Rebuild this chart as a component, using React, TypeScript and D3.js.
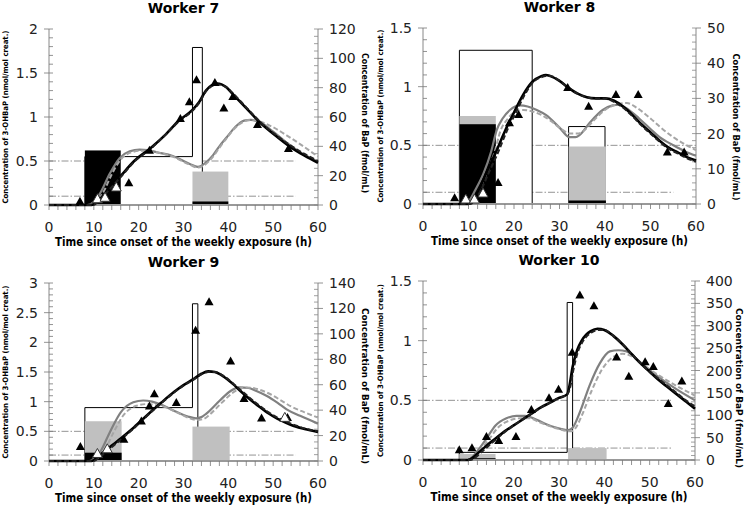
import React from 'react';
import * as d3 from 'd3';

type P = [number, number];
type Seg = [number, number, number];

// ---------- shared ----------
const xTicks = [0, 10, 20, 30, 40, 50, 60];
const refLevels = [0.5, 0.1];
const xTitle = 'Time since onset of the weekly exposure (h)';
const leftTitle = 'Concentration of 3-OHBaP (nmol/mol creat.)';
const rightTitle = 'Concentration of BaP (fmol/mL)';

// ---------- Worker 7 ----------
const w7LeftTicks = [0, 0.5, 1, 1.5, 2];
const w7RightTicks = [0, 20, 40, 60, 80, 100, 120];
const w7White: Seg[][] = [[[8, 32, 0.55], [32, 34.2, 1.79]]];
const w7Grey: Seg[] = [[32, 40, 0.38]];
const w7Black: Seg[] = [[8, 16, 0.62], [32, 40, 0.04]];
const w7BlackSolid: P[] = [[0,0],[9.5,0],[11,0.05],[13,0.16],[16,0.33],[19,0.5],[22.5,0.64],[26,0.8],[29,0.96],[32,1.08],[33.5,1.17],[35,1.3],[37.5,1.38],[39.5,1.34],[41,1.26],[44,1.1],[47,0.94],[50,0.81],[53.8,0.66],[57,0.56],[60,0.48]];
const w7BlackDash: P[] = [[0,0],[9.8,0],[11.2,0.05],[13.2,0.16],[16.2,0.33],[19,0.49],[22.5,0.63],[26,0.8],[29,0.95],[32,1.07],[33.5,1.16],[35,1.29],[37.5,1.37],[39.5,1.34],[41,1.27],[44,1.11],[47,0.95],[50,0.82],[53.8,0.68],[57,0.58],[60,0.5]];
const w7GreySolid: P[] = [[0,0],[8.5,0],[10,2],[11.4,8],[13.6,21.6],[15.8,32],[18,36.6],[20.2,37.8],[22,37.5],[24,36],[27.6,33.4],[31.4,28],[33.2,26],[35,29],[36.6,34],[38,40],[39.6,46],[41.5,53],[43.5,57.5],[45,58],[47,56.5],[50,50],[53,42.5],[56,36],[60,29.5]];
const w7GreyDash: P[] = [[0,0],[9,0],[10.5,2],[12,8],[14,21],[16,31],[18,35.5],[20.5,37],[22.5,37],[24,36],[27.6,33],[31.4,27.5],[33.2,25.5],[35,28],[36.6,33],[38,39],[39.6,45.5],[41.5,52.5],[43.5,57],[45,58],[47,57],[50,53],[53,47.5],[56,41.5],[60,33]];
const w7Meas3OH: P[] = [[6.9,0.04],[17.8,0.25],[22.4,0.62],[29.3,0.98],[31.3,1.17],[32.9,1.42],[37,1.39],[39,1.1],[41,1.23],[46.5,0.91],[53.4,0.64]];
const w7MeasBaP: P[] = [[10.8,4],[12.5,5],[15,12]];

// ---------- Worker 8 ----------
const w8LeftTicks = [0, 0.5, 1, 1.5];
const w8RightTicks = [0, 10, 20, 30, 40, 50];
const w8White: Seg[][] = [[[8, 24, 1.31]], [[32, 40, 0.66]]];
const w8Grey: Seg[] = [[8, 16, 0.75], [32, 40.2, 0.49]];
const w8Black: Seg[] = [[8, 16, 0.68], [32, 40.2, 0.03]];
const w8BlackSolid: P[] = [[0,0],[10,0],[11,0.04],[12,0.1],[14,0.27],[16,0.44],[18,0.62],[20,0.78],[22,0.93],[24,1.04],[26,1.09],[27,1.1],[28,1.09],[30,1.05],[32,0.99],[34,0.94],[36,0.91],[38,0.9],[40,0.9],[42,0.88],[44,0.83],[46,0.76],[48,0.68],[50,0.61],[52,0.54],[54,0.48],[56,0.44],[58,0.4],[60,0.37]];
const w8BlackDash: P[] = [[0,0],[10.5,0],[11.5,0.04],[12.5,0.1],[14.5,0.27],[16.5,0.44],[18.4,0.62],[20.3,0.77],[22.2,0.92],[24,1.03],[26,1.08],[27,1.09],[28,1.09],[30,1.05],[32,0.99],[34,0.94],[36,0.91],[38,0.9],[40,0.9],[42,0.87],[44,0.82],[46,0.75],[48,0.67],[50,0.6],[52,0.53],[54,0.47],[56,0.43],[58,0.39],[60,0.36]];
const w8GreySolid: P[] = [[0,0],[9,0],[10,0.7],[11.5,4],[13.3,8.7],[15,15],[16.2,21],[17.5,24.3],[19.1,26.7],[21.3,28],[23,27.7],[25,26.7],[27,25.3],[30,21.7],[32.2,19],[33.5,19],[34.5,19.7],[36.6,23],[39.5,26.7],[41.7,28],[43,28.2],[44.6,27.3],[47.5,24.3],[50,21.3],[52,19],[55,16.7],[57.5,15],[60,13.7]];
const w8GreyDash: P[] = [[0,0],[9.5,0],[10.8,1],[12.3,4],[14,8.7],[15.8,15],[17,20.7],[18.5,24],[20,26],[22,26.7],[24,26.3],[26,25.3],[28,23.7],[30,21.7],[32.5,20],[34,20],[35.5,21],[37.5,23.7],[40,26.7],[42.5,28.3],[44.8,28.7],[47,27.3],[50,24.3],[52,22],[55,19],[57.5,17],[60,15.3]];
const w8Meas3OH: P[] = [[6.95,0.05],[16.5,0.18],[19,0.69],[21,0.76],[31.8,0.99],[36.4,0.83],[42.4,0.93],[47.3,0.93],[53.7,0.44],[57.4,0.44]];
const w8MeasBaP: P[] = [[9.4,1.3],[11.3,1.3],[13.2,3]];

// ---------- Worker 9 ----------
const w9LeftTicks = [0, 0.5, 1, 1.5, 2, 2.5, 3];
const w9RightTicks = [0, 20, 40, 60, 80, 100, 120, 140];
const w9White: Seg[][] = [[[8, 32, 0.9], [32, 33.2, 2.65]]];
const w9Grey: Seg[] = [[8, 16.2, 0.67], [32, 40.3, 0.58]];
const w9Black: Seg[] = [[8, 16.2, 0.14]];
const w9BlackSolid: P[] = [[0,0],[9.5,0],[11,0.08],[13,0.2],[16,0.38],[19,0.57],[22,0.78],[25,0.98],[28,1.17],[30,1.28],[32,1.37],[34,1.47],[35.5,1.51],[37,1.5],[39,1.42],[41,1.3],[43,1.16],[45,1.03],[47,0.91],[49,0.8],[51,0.71],[53,0.64],[55,0.58],[57,0.54],[60,0.49]];
const w9BlackDash: P[] = [[0,0],[10,0],[11.5,0.08],[13.5,0.2],[16.3,0.38],[19.2,0.57],[22,0.77],[25,0.97],[28,1.16],[30,1.27],[32,1.36],[34,1.46],[35.5,1.5],[37,1.5],[39,1.43],[41,1.31],[43,1.18],[45,1.05],[47,0.93],[49,0.82],[51,0.73],[53,0.66],[55,0.6],[57,0.55],[60,0.5]];
const w9GreySolid: P[] = [[0,0],[9,0],[10,1.9],[11.4,7],[13.6,22.9],[16,38.3],[18.8,46.2],[21,47.6],[23,46.7],[24.7,44.8],[28.4,38.7],[31,35],[32.8,33.6],[34,34.5],[35.1,37.3],[38.1,47.6],[40.5,55.1],[42.5,57.9],[44.5,57.4],[46,55.5],[48.5,51.3],[51,45.7],[53,40.6],[56,35.5],[60,29.4]];
const w9GreyDash: P[] = [[0,0],[9.5,0],[10.7,1.9],[12.2,7],[14.3,21.9],[16.7,36.4],[19.5,43.4],[22,44.8],[24,43.9],[25.5,42.9],[28.5,38.3],[31,34.1],[33,32.2],[34.5,33.1],[35.8,36.4],[38.5,45.7],[41,53.7],[43.5,57.9],[45.5,57.4],[47,56],[49.5,52.3],[52,47.1],[54,42.9],[57,38.3],[60,34.1]];
const w9Meas3OH: P[] = [[7,0.24],[16.7,0.36],[20.6,0.67],[22.4,0.92],[23.5,1.13],[28.4,0.98],[32.7,2.2],[35.7,2.68],[40.5,1.68],[43.5,1.05],[47.4,0.72],[53.2,0.73]];
const w9MeasBaP: P[] = [[10.8,5.6],[13,9.3],[52.6,34]];

// ---------- Worker 10 ----------
const w10LeftTicks = [0, 0.5, 1, 1.5];
const w10RightTicks = [0, 50, 100, 150, 200, 250, 300, 350, 400];
const w10White: Seg[][] = [[[8, 31.8, 0.064], [31.8, 33, 1.32]]];
const w10Grey: Seg[] = [[8, 16, 0.05], [32, 40.5, 0.1]];
const w10Black: Seg[] = [[10, 16, 0.015]];
const w10BlackSolid: P[] = [[0,0],[10,0],[11,0.02],[12.5,0.07],[14,0.12],[16,0.18],[18,0.24],[20,0.29],[22,0.34],[24,0.39],[26,0.44],[28,0.48],[30,0.52],[31.8,0.55],[32.3,0.62],[33,0.78],[34,0.92],[35,1.0],[36,1.05],[37,1.08],[38.5,1.1],[40,1.09],[42,1.04],[44,0.97],[46,0.89],[48,0.81],[50,0.74],[52,0.67],[54,0.61],[56,0.55],[58,0.49],[60,0.43]];
const w10BlackDash: P[] = [[0,0],[10.5,0],[11.5,0.02],[13,0.07],[14.5,0.12],[16.3,0.18],[18.2,0.24],[20,0.29],[22,0.34],[24,0.39],[26,0.44],[28,0.48],[30,0.52],[31.8,0.55],[32.4,0.6],[33.2,0.76],[34.2,0.91],[35.2,0.99],[36.2,1.04],[37.2,1.07],[38.7,1.09],[40,1.09],[42,1.04],[44,0.97],[46,0.89],[48,0.81],[50,0.74],[52,0.68],[54,0.62],[56,0.56],[58,0.5],[60,0.45]];
const w10GreySolid: P[] = [[0,0],[10,0],[11,8],[12.5,26.7],[14,48],[16,77.3],[18.4,93.3],[20.6,98.7],[22.5,98.7],[23.6,96],[25.5,88],[27.2,80],[29.5,72],[32,66.7],[33,72],[34.6,106.7],[36.8,168],[39,216],[41.2,242.7],[43.1,245.3],[44.9,242.7],[47.9,218.7],[51.5,189.3],[55.2,162.7],[60,133.3]];
const w10GreyDash: P[] = [[0,0],[10.5,0],[11.5,8],[13,26.7],[14.5,45.3],[16.5,72],[19,88],[21.5,93.3],[23.5,93.3],[25.5,85.3],[27.5,77.3],[30,69.3],[32.5,64],[33.5,69.3],[35,98.7],[37.2,154.7],[39.5,202.7],[41.8,229.3],[44,237.3],[46,232],[48.5,213.3],[52,189.3],[56,165.3],[60,144]];
const w10Meas3OH: P[] = [[8,0.084],[10.8,0.1],[14,0.195],[16.7,0.16],[20.5,0.195],[23.9,0.42],[27.8,0.52],[29.9,0.59],[32.9,0.9],[34.6,1.38],[37.7,1.29],[42.7,0.86],[45.4,0.7],[49,0.82],[50.8,0.78],[54.1,0.47],[57.1,0.66]];
const w10MeasBaP: P[] = [];

// ---------- layout ----------
const FONT = "'DejaVu Sans', Verdana, sans-serif";

interface Cfg {
  title: string;
  x0: number; x1: number; yBot: number; yTop: number;
  leftTicks: number[]; rightTicks: number[]; rightMinor: number;
  refEnd: number[];
  white: Seg[][]; grey: Seg[]; black: Seg[];
  blackSolid: P[]; blackDash: P[]; greySolid: P[]; greyDash: P[];
  meas3OH: P[]; measBaP: P[];
  leftTitleX: number; rightTitleX: number; rightTitleLen: number; rightTitleY: number;
}

const panels: Cfg[] = [
  { title: 'Worker 7', x0: 49, x1: 318, yBot: 205, yTop: 29, leftTicks: w7LeftTicks, rightTicks: w7RightTicks, rightMinor: 5, refEnd: [55, 55],
    white: w7White, grey: w7Grey, black: w7Black, blackSolid: w7BlackSolid, blackDash: w7BlackDash, greySolid: w7GreySolid, greyDash: w7GreyDash,
    meas3OH: w7Meas3OH, measBaP: w7MeasBaP, leftTitleX: 8, rightTitleX: 362, rightTitleLen: 140, rightTitleY: 123 },
  { title: 'Worker 8', x0: 423, x1: 696, yBot: 204, yTop: 28, leftTicks: w8LeftTicks, rightTicks: w8RightTicks, rightMinor: 2, refEnd: [60, 55],
    white: w8White, grey: w8Grey, black: w8Black, blackSolid: w8BlackSolid, blackDash: w8BlackDash, greySolid: w8GreySolid, greyDash: w8GreyDash,
    meas3OH: w8Meas3OH, measBaP: w8MeasBaP, leftTitleX: 383, rightTitleX: 733, rightTitleLen: 147, rightTitleY: 127 },
  { title: 'Worker 9', x0: 49, x1: 318, yBot: 461, yTop: 283, leftTicks: w9LeftTicks, rightTicks: w9RightTicks, rightMinor: 5, refEnd: [55, 55],
    white: w9White, grey: w9Grey, black: w9Black, blackSolid: w9BlackSolid, blackDash: w9BlackDash, greySolid: w9GreySolid, greyDash: w9GreyDash,
    meas3OH: w9Meas3OH, measBaP: w9MeasBaP, leftTitleX: 8, rightTitleX: 362, rightTitleLen: 156, rightTitleY: 386 },
  { title: 'Worker 10', x0: 423, x1: 695, yBot: 460, yTop: 281, leftTicks: w10LeftTicks, rightTicks: w10RightTicks, rightMinor: 10, refEnd: [55, 55],
    white: w10White, grey: w10Grey, black: w10Black, blackSolid: w10BlackSolid, blackDash: w10BlackDash, greySolid: w10GreySolid, greyDash: w10GreyDash,
    meas3OH: w10Meas3OH, measBaP: w10MeasBaP, leftTitleX: 383, rightTitleX: 736, rightTitleLen: 160, rightTitleY: 388 },
];

const fmt = (v: number) => String(Math.round(v * 100) / 100);

function tri(cx: number, cy: number, w: number, h: number) {
  return `M${cx},${cy - h * 0.6}L${cx + w / 2},${cy + h * 0.4}L${cx - w / 2},${cy + h * 0.4}Z`;
}

function Panel({ c }: { c: Cfg }) {
  const lmax = c.leftTicks[c.leftTicks.length - 1];
  const rmax = c.rightTicks[c.rightTicks.length - 1];
  const x = d3.scaleLinear().domain([0, 60]).range([c.x0, c.x1]);
  const yL = d3.scaleLinear().domain([0, lmax]).range([c.yBot, c.yTop]);
  const yR = d3.scaleLinear().domain([0, rmax]).range([c.yBot, c.yTop]);
  const lineL = d3.line<P>().x(d => x(d[0])).y(d => yL(d[1])).curve(d3.curveMonotoneX);
  const lineR = d3.line<P>().x(d => x(d[0])).y(d => yR(d[1])).curve(d3.curveMonotoneX);
  const poly = d3.line<P>().x(d => x(d[0])).y(d => yL(d[1]));

  const stepShape = (segs: Seg[]) => {
    const pts: P[] = [[segs[0][0], 0]];
    segs.forEach(s => { pts.push([s[0], s[2]]); pts.push([s[1], s[2]]); });
    pts.push([segs[segs.length - 1][1], 0]);
    return poly(pts) + 'Z';
  };

  const leftMinor = d3.range(0, lmax + 1e-9, 0.1);
  const rightMinor = d3.range(0, rmax + 1e-9, c.rightMinor);
  const xMinor = d3.range(0, 60.001, 2);
  const midX = (c.x0 + c.x1) / 2;
  const midY = (c.yBot + c.yTop) / 2;

  return (
    <g fontFamily={FONT}>
      <text x={midX} y={c.yTop - 16} textAnchor="middle" fontWeight="bold" fontSize={14}>{c.title}</text>

      {refLevels.map((lv, i) => (
        <line key={'r' + i} x1={x(0)} x2={x(c.refEnd[i])} y1={yL(lv)} y2={yL(lv)}
          stroke="#777" strokeWidth={0.8} strokeDasharray="7 2 1.5 2" />
      ))}

      {c.white.map((segs, i) => (
        <path key={'w' + i} d={stepShape(segs)} fill="#fff" stroke="#000" strokeWidth={1} />
      ))}
      {c.grey.map((s, i) => (
        <rect key={'g' + i} x={x(s[0])} width={x(s[1]) - x(s[0])} y={yL(s[2])} height={yL(0) - yL(s[2])} fill="#c0c0c0" />
      ))}
      {c.black.map((s, i) => (
        <rect key={'b' + i} x={x(s[0])} width={x(s[1]) - x(s[0])} y={yL(s[2])} height={yL(0) - yL(s[2])} fill="#000" />
      ))}

      <line x1={c.x0} x2={c.x1} y1={c.yBot} y2={c.yBot} stroke="#999" strokeWidth={2} />
      <line x1={c.x0} x2={c.x0} y1={c.yBot} y2={c.yTop} stroke="#888" strokeWidth={1} />
      <line x1={c.x1} x2={c.x1} y1={c.yBot} y2={c.yTop} stroke="#888" strokeWidth={1} />
      {xMinor.map(t => (
        <line key={'xt' + t} x1={x(t)} x2={x(t)} y1={c.yBot} y2={c.yBot + 5} stroke="#777" strokeWidth={0.8} />
      ))}
      {xTicks.map(t => (
        <text key={'xl' + t} x={x(t)} y={c.yBot + 27} textAnchor="middle" fontSize={14} fill="#222">{t}</text>
      ))}
      {leftMinor.map((v, i) => (
        <line key={'lm' + i} x1={c.x0} x2={c.x0 + 4} y1={yL(v)} y2={yL(v)} stroke="#777" strokeWidth={0.8} />
      ))}
      {c.leftTicks.map(v => (
        <g key={'lt' + v}>
          <line x1={c.x0 - 5} x2={c.x0} y1={yL(v)} y2={yL(v)} stroke="#777" strokeWidth={0.8} />
          <text x={c.x0 - 11} y={yL(v)} dy="0.36em" textAnchor="end" fontSize={14} fill="#222">{fmt(v)}</text>
        </g>
      ))}
      {rightMinor.map((v, i) => (
        <line key={'rm' + i} x1={c.x1 - 4} x2={c.x1} y1={yR(v)} y2={yR(v)} stroke="#888" strokeWidth={0.8} />
      ))}
      {c.rightTicks.map(v => (
        <g key={'rt' + v}>
          <line x1={c.x1} x2={c.x1 + 5} y1={yR(v)} y2={yR(v)} stroke="#777" strokeWidth={0.8} />
          <text x={c.x1 + 11} y={yR(v)} dy="0.36em" textAnchor="start" fontSize={14} fill="#222">{v}</text>
        </g>
      ))}

      <text x={midX} y={c.yBot + 41} textAnchor="middle" fontWeight="bold" fontSize={11.5}
        textLength={257} lengthAdjust="spacingAndGlyphs">{xTitle}</text>
      <text transform={`translate(${c.leftTitleX},${midY}) rotate(-90)`} textAnchor="middle" fontWeight="bold" fontSize={7.5}
        textLength={173} lengthAdjust="spacingAndGlyphs">{leftTitle}</text>
      <text transform={`translate(${c.rightTitleX},${c.rightTitleY}) rotate(90)`} textAnchor="middle" fontWeight="bold" fontSize={8}
        textLength={c.rightTitleLen} lengthAdjust="spacingAndGlyphs">{rightTitle}</text>

      <path d={lineR(c.greySolid) || ''} fill="none" stroke="#808080" strokeWidth={2.2} />
      <path d={lineR(c.greyDash) || ''} fill="none" stroke="#a6a6a6" strokeWidth={2} strokeDasharray="5 2.5" />
      <path d={lineL(c.blackSolid) || ''} fill="none" stroke="#000" strokeWidth={2.6} />
      <path d={lineL(c.blackDash) || ''} fill="none" stroke="#222" strokeWidth={2} strokeDasharray="5 2.5" />

      {c.meas3OH.map((d, i) => (
        <path key={'m' + i} d={tri(x(d[0]), yL(d[1]), 9, 8)} fill="#000" />
      ))}
      {c.measBaP.map((d, i) => (
        <path key={'o' + i} d={tri(x(d[0]), yR(d[1]), 10, 9)} fill="#fff" stroke="#333" strokeWidth={1} />
      ))}
    </g>
  );
}

export default function App() {
  return (
    <svg width={746} height={505} viewBox="0 0 746 505" style={{ display: 'block', position: 'absolute', left: 0, top: 0 }}>
      <rect width={746} height={505} fill="#fff" />
      {panels.map(p => <Panel key={p.title} c={p} />)}
    </svg>
  );
}
